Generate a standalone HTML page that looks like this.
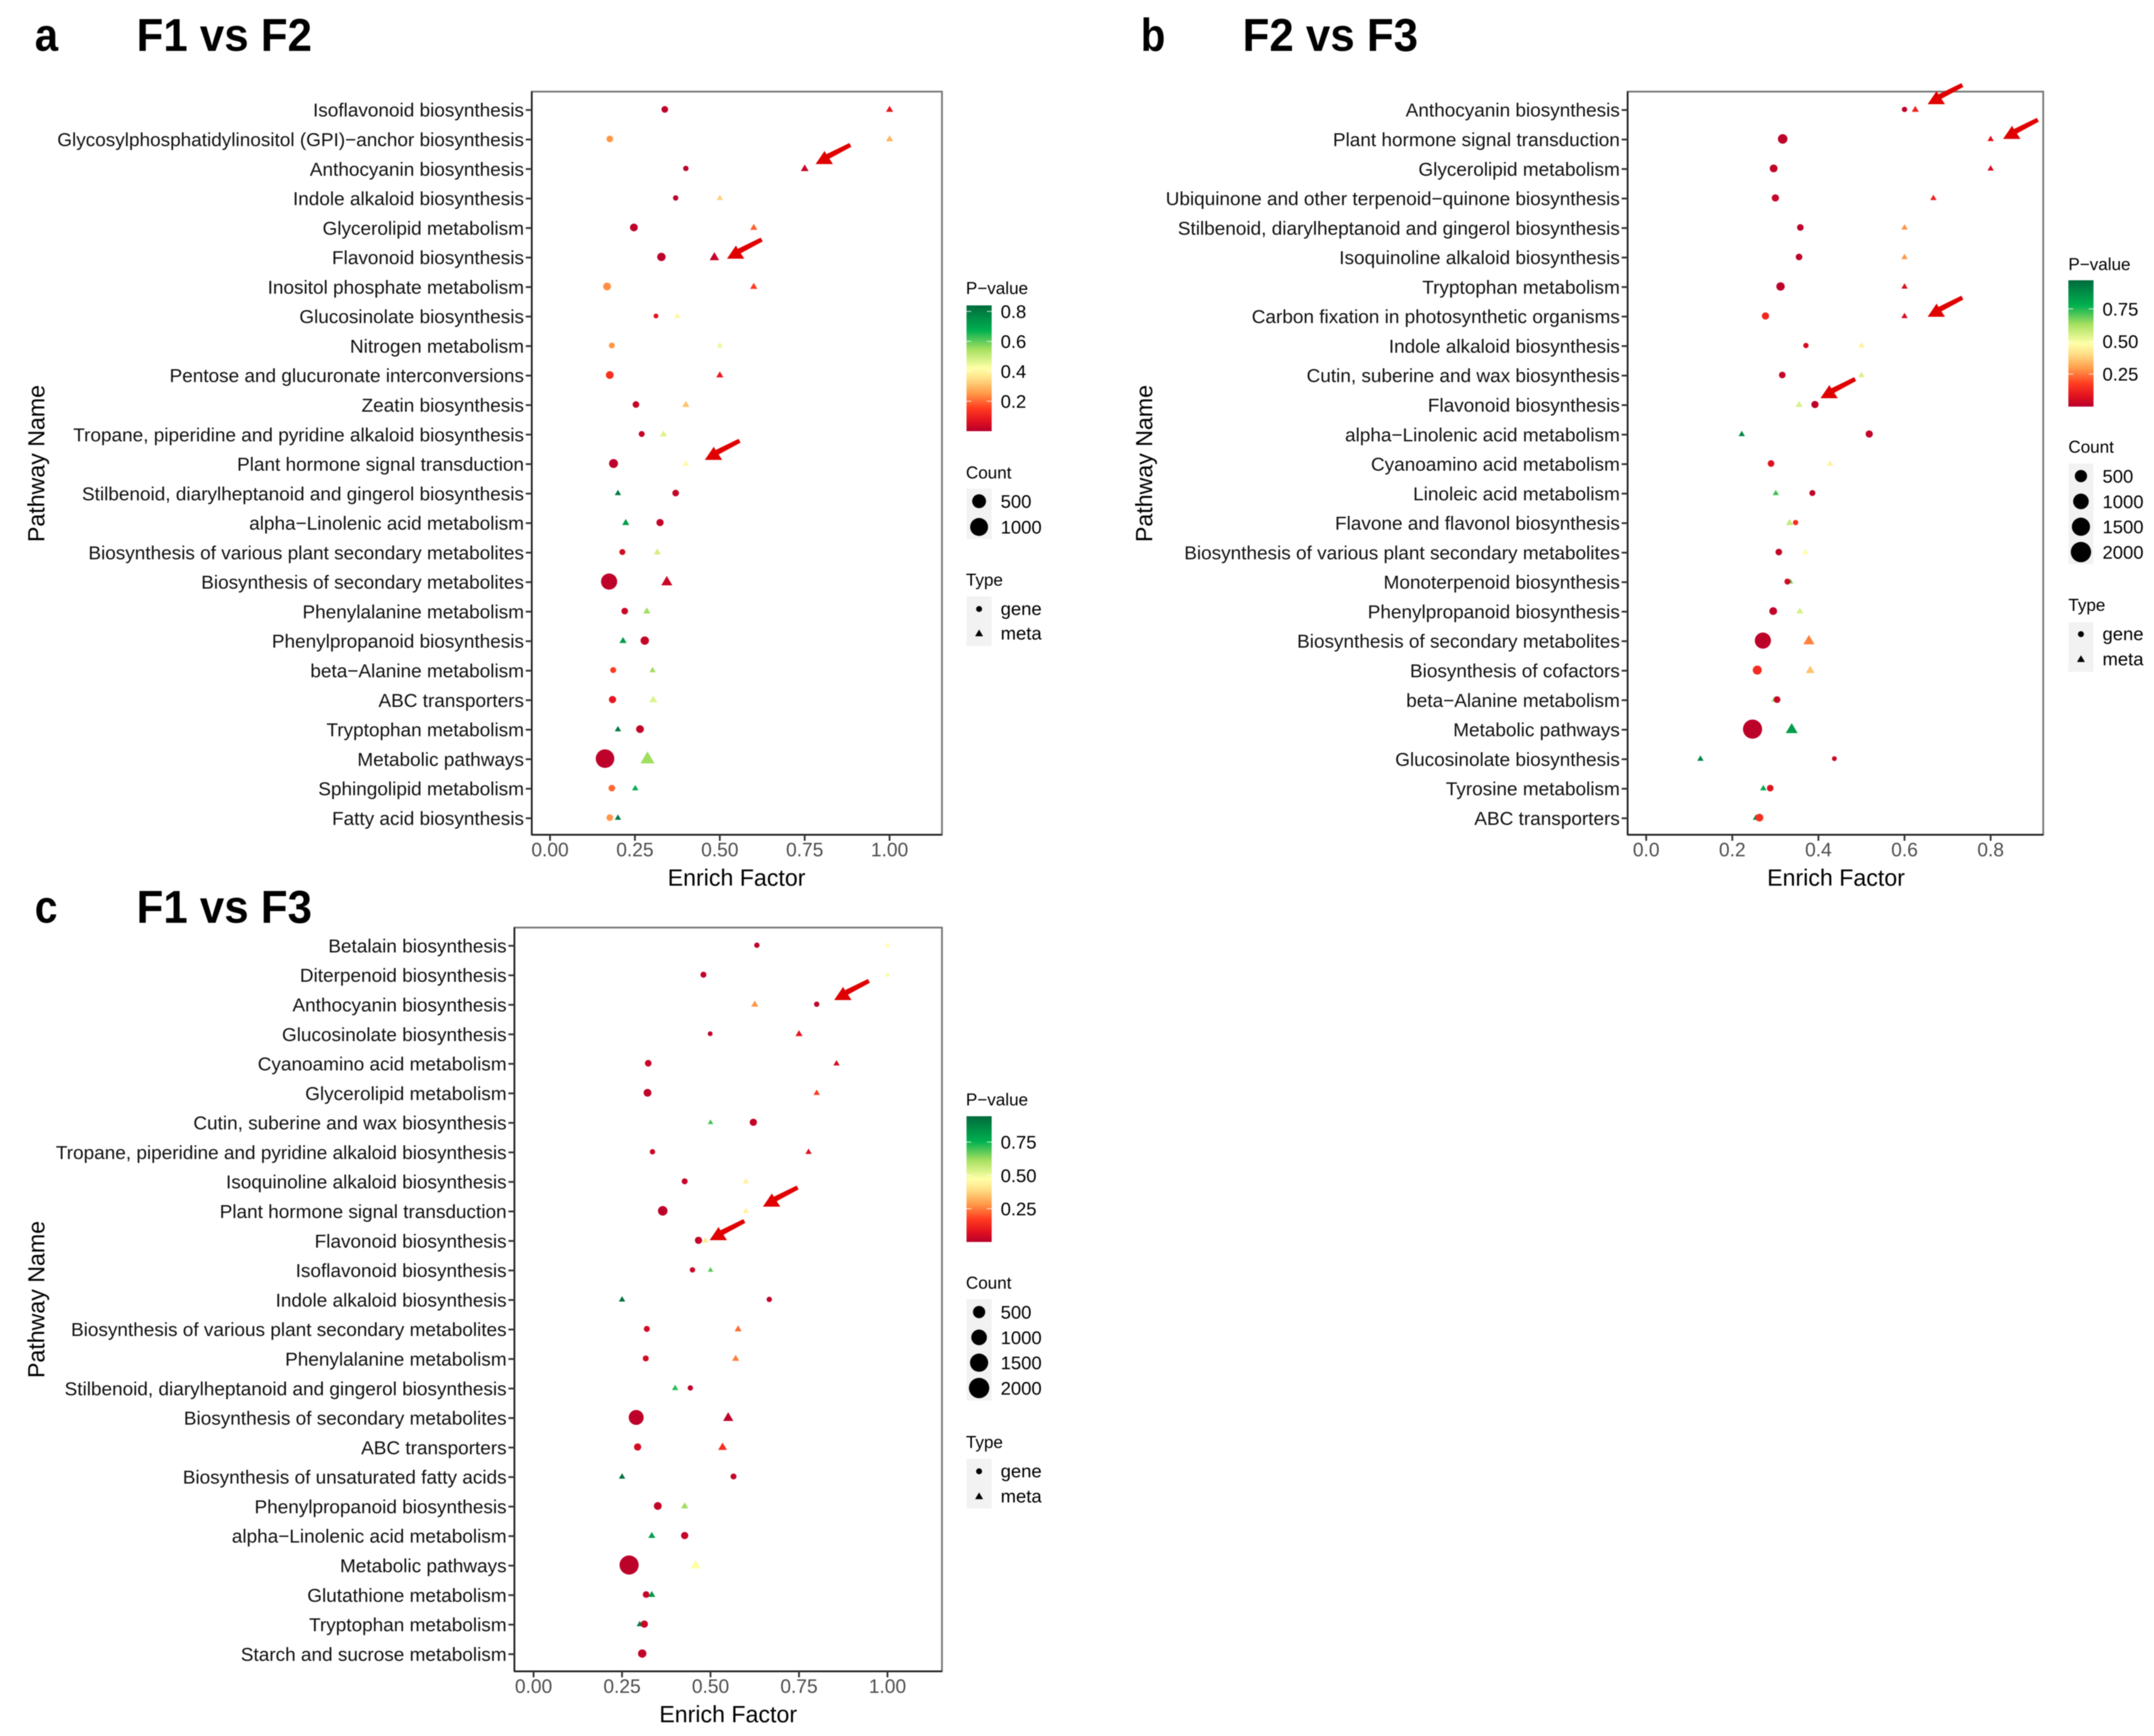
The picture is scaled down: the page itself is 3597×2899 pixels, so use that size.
<!DOCTYPE html>
<html lang="en">
<head>
<meta charset="utf-8">
<title>Pathway enrichment bubble charts</title>
<style>
html,body{margin:0;padding:0;background:#fff;}
svg{display:block;filter:blur(0.7px);}
text{font-family:"Liberation Sans",sans-serif;}
.panel-letter,.panel-title{font-weight:bold;font-size:77px;fill:#000;}
.axis-title{font-size:38.7px;fill:#000;}
.legend-title{font-size:28.5px;fill:#000;}
.legend-label{font-size:30.8px;fill:#000;}
.path-label{font-size:31.7px;fill:#111;}
.x-tick-label{font-size:32px;fill:#4d4d4d;}
.red-arrow{fill:#e00000;}
</style>
</head>
<body>
<svg id="figure" xmlns="http://www.w3.org/2000/svg" width="3597" height="2899" viewBox="0 0 3597 2899">
  <defs id="gradients"></defs>
  <rect x="0" y="0" width="3597" height="2899" fill="#fff"/>

  <g id="panel-a">
    <text class="panel-letter" x="58" y="85" textLength="39" lengthAdjust="spacingAndGlyphs">a</text>
    <text class="panel-title" x="228" y="85" textLength="293" lengthAdjust="spacingAndGlyphs">F1 vs F2</text>
    <text class="axis-title" text-anchor="middle" transform="translate(74,774) rotate(-90)">Pathway Name</text>
    <text class="axis-title" text-anchor="middle" x="1230" y="1479">Enrich Factor</text>
    <text class="legend-title" x="1613" y="491">P−value</text>
    <text class="legend-title" x="1613" y="799">Count</text>
    <text class="legend-title" x="1613" y="978">Type</text>
  </g>

  <g id="panel-b">
    <text class="panel-letter" x="1905" y="85" textLength="41" lengthAdjust="spacingAndGlyphs">b</text>
    <text class="panel-title" x="2075" y="85" textLength="293" lengthAdjust="spacingAndGlyphs">F2 vs F3</text>
    <text class="axis-title" text-anchor="middle" transform="translate(1924,774) rotate(-90)">Pathway Name</text>
    <text class="axis-title" text-anchor="middle" x="3066" y="1479">Enrich Factor</text>
    <text class="legend-title" x="3454" y="451">P−value</text>
    <text class="legend-title" x="3454" y="756">Count</text>
    <text class="legend-title" x="3454" y="1020">Type</text>
  </g>

  <g id="panel-c">
    <text class="panel-letter" x="58" y="1541" textLength="38" lengthAdjust="spacingAndGlyphs">c</text>
    <text class="panel-title" x="228" y="1541" textLength="293" lengthAdjust="spacingAndGlyphs">F1 vs F3</text>
    <text class="axis-title" text-anchor="middle" transform="translate(74,2170) rotate(-90)">Pathway Name</text>
    <text class="axis-title" text-anchor="middle" x="1216" y="2876">Enrich Factor</text>
    <text class="legend-title" x="1613" y="1846">P−value</text>
    <text class="legend-title" x="1613" y="2152">Count</text>
    <text class="legend-title" x="1613" y="2418">Type</text>
  </g>

  <g id="arrows">
    <polygon class="red-arrow" transform="translate(1362,274)" points="0,0 15,-22 18,-16.5 56.3,-35.1 59.7,-28.9 23,-9 29,0"/>
    <polygon class="red-arrow" transform="translate(1214,432)" points="0,0 15,-22 18,-16.5 56.3,-35.1 59.7,-28.9 23,-9 29,0"/>
    <polygon class="red-arrow" transform="translate(1177,768)" points="0,0 15,-22 18,-16.5 56.3,-35.1 59.7,-28.9 23,-9 29,0"/>
    <polygon class="red-arrow" transform="translate(3219,174)" points="0,0 15,-22 18,-16.5 56.3,-35.1 59.7,-28.9 23,-9 29,0"/>
    <polygon class="red-arrow" transform="translate(3345,232)" points="0,0 15,-22 18,-16.5 56.3,-35.1 59.7,-28.9 23,-9 29,0"/>
    <polygon class="red-arrow" transform="translate(3219,529)" points="0,0 15,-22 18,-16.5 56.3,-35.1 59.7,-28.9 23,-9 29,0"/>
    <polygon class="red-arrow" transform="translate(3040,665)" points="0,0 15,-22 18,-16.5 56.3,-35.1 59.7,-28.9 23,-9 29,0"/>
    <polygon class="red-arrow" transform="translate(1393,1670)" points="0,0 15,-22 18,-16.5 56.3,-35.1 59.7,-28.9 23,-9 29,0"/>
    <polygon class="red-arrow" transform="translate(1274,2015)" points="0,0 15,-22 18,-16.5 56.3,-35.1 59.7,-28.9 23,-9 29,0"/>
    <polygon class="red-arrow" transform="translate(1185,2071)" points="0,0 15,-22 18,-16.5 56.3,-35.1 59.7,-28.9 23,-9 29,0"/>
  </g>
</svg>

<script>
/* ---------- Panel a: F1 vs F2 ---------- */
const aPathways = ["Isoflavonoid biosynthesis","Glycosylphosphatidylinositol (GPI)−anchor biosynthesis","Anthocyanin biosynthesis","Indole alkaloid biosynthesis","Glycerolipid metabolism","Flavonoid biosynthesis","Inositol phosphate metabolism","Glucosinolate biosynthesis","Nitrogen metabolism","Pentose and glucuronate interconversions","Zeatin biosynthesis","Tropane, piperidine and pyridine alkaloid biosynthesis","Plant hormone signal transduction","Stilbenoid, diarylheptanoid and gingerol biosynthesis","alpha−Linolenic acid metabolism","Biosynthesis of various plant secondary metabolites","Biosynthesis of secondary metabolites","Phenylalanine metabolism","Phenylpropanoid biosynthesis","beta−Alanine metabolism","ABC transporters","Tryptophan metabolism","Metabolic pathways","Sphingolipid metabolism","Fatty acid biosynthesis"];
const aGeneFactor = [0.338,0.176,0.40,0.37,0.247,0.328,0.168,0.312,0.182,0.176,0.253,0.27,0.187,0.37,0.324,0.213,0.174,0.22,0.279,0.186,0.184,0.265,0.162,0.182,0.176];
const aGeneP = [0.01,0.25,0.01,0.01,0.01,0.01,0.24,0.07,0.25,0.13,0.02,0.02,0.01,0.02,0.02,0.04,0.01,0.03,0.02,0.15,0.08,0.02,0.01,0.2,0.25];
const aGeneCount = [31,31,8,8,69,94,69,2,17,69,31,17,122,31,48,17,764,31,94,17,48,69,1100,31,31];
const aMetaFactor = [1.0,1.0,0.75,0.50,0.60,0.484,0.60,0.375,0.50,0.50,0.40,0.334,0.40,0.20,0.223,0.316,0.344,0.285,0.215,0.302,0.304,0.20,0.287,0.251,0.20];
const aMetaP = [0.08,0.29,0.02,0.33,0.19,0.02,0.15,0.4,0.45,0.09,0.31,0.47,0.41,0.8,0.72,0.48,0.03,0.55,0.72,0.55,0.47,0.8,0.55,0.68,0.8];
const aMetaCount = [8,8,17,2,8,48,8,1,2,8,8,8,2,2,8,8,94,8,8,2,17,2,231,2,2];
const aXTicks = [0,0.25,0.5,0.75,1];
const aXTickLabels = ["0.00","0.25","0.50","0.75","1.00"];
const aPTicks = [0.2,0.4,0.6,0.8];
const aPTickLabels = ["0.2","0.4","0.6","0.8"];
const aLegendCounts = [500,1000];

/* ---------- Panel b: F2 vs F3 ---------- */
const bPathways = ["Anthocyanin biosynthesis","Plant hormone signal transduction","Glycerolipid metabolism","Ubiquinone and other terpenoid−quinone biosynthesis","Stilbenoid, diarylheptanoid and gingerol biosynthesis","Isoquinoline alkaloid biosynthesis","Tryptophan metabolism","Carbon fixation in photosynthetic organisms","Indole alkaloid biosynthesis","Cutin, suberine and wax biosynthesis","Flavonoid biosynthesis","alpha−Linolenic acid metabolism","Cyanoamino acid metabolism","Linoleic acid metabolism","Flavone and flavonol biosynthesis","Biosynthesis of various plant secondary metabolites","Monoterpenoid biosynthesis","Phenylpropanoid biosynthesis","Biosynthesis of secondary metabolites","Biosynthesis of cofactors","beta−Alanine metabolism","Metabolic pathways","Glucosinolate biosynthesis","Tyrosine metabolism","ABC transporters"];
const bGeneFactor = [0.60,0.317,0.296,0.30,0.358,0.355,0.312,0.277,0.371,0.316,0.392,0.518,0.29,0.386,0.347,0.308,0.328,0.295,0.271,0.258,0.304,0.247,0.437,0.288,0.263];
const bGeneP = [0.01,0.01,0.02,0.03,0.01,0.01,0.01,0.13,0.06,0.03,0.01,0.02,0.08,0.02,0.15,0.02,0.05,0.02,0.01,0.14,0.03,0.01,0.04,0.08,0.15];
const bGeneCount = [11,222,99,69,44,44,134,69,11,44,69,69,44,25,11,44,25,99,1097,176,44,1715,3,44,99];
const bMetaFactor = [0.625,0.80,0.80,0.667,0.60,0.60,0.60,0.60,0.50,0.50,0.355,0.222,0.427,0.301,0.333,0.37,0.335,0.357,0.378,0.381,0.298,0.338,0.126,0.272,0.255];
const bMetaP = [0.12,0.08,0.06,0.12,0.28,0.29,0.07,0.06,0.45,0.55,0.55,0.88,0.45,0.72,0.58,0.48,0.7,0.55,0.26,0.36,0.65,0.83,0.9,0.8,0.88];
const bMetaCount = [11,3,3,3,3,3,3,3,3,3,11,3,3,3,11,3,0,11,134,44,3,176,3,3,3];
const bXTicks = [0,0.2,0.4,0.6,0.8];
const bXTickLabels = ["0.0","0.2","0.4","0.6","0.8"];
const bPTicks = [0.25,0.5,0.75];
const bPTickLabels = ["0.25","0.50","0.75"];
const bLegendCounts = [500,1000,1500,2000];

/* ---------- Panel c: F1 vs F3 ---------- */
const cPathways = ["Betalain biosynthesis","Diterpenoid biosynthesis","Anthocyanin biosynthesis","Glucosinolate biosynthesis","Cyanoamino acid metabolism","Glycerolipid metabolism","Cutin, suberine and wax biosynthesis","Tropane, piperidine and pyridine alkaloid biosynthesis","Isoquinoline alkaloid biosynthesis","Plant hormone signal transduction","Flavonoid biosynthesis","Isoflavonoid biosynthesis","Indole alkaloid biosynthesis","Biosynthesis of various plant secondary metabolites","Phenylalanine metabolism","Stilbenoid, diarylheptanoid and gingerol biosynthesis","Biosynthesis of secondary metabolites","ABC transporters","Biosynthesis of unsaturated fatty acids","Phenylpropanoid biosynthesis","alpha−Linolenic acid metabolism","Metabolic pathways","Glutathione metabolism","Tryptophan metabolism","Starch and sucrose metabolism"];
const cGeneFactor = [0.631,0.48,0.80,0.499,0.324,0.322,0.621,0.336,0.427,0.365,0.466,0.449,0.666,0.32,0.317,0.443,0.29,0.294,0.565,0.351,0.427,0.27,0.318,0.313,0.307];
const cGeneP = [0.01,0.02,0.01,0.02,0.03,0.02,0.02,0.03,0.02,0.01,0.02,0.03,0.02,0.05,0.05,0.02,0.01,0.05,0.02,0.02,0.02,0.01,0.03,0.03,0.02];
const cGeneCount = [11,25,11,3,44,99,69,11,25,222,69,11,11,25,25,11,889,69,25,99,69,1715,44,69,134];
const cMetaFactor = [1.0,1.0,0.625,0.75,0.856,0.80,0.50,0.777,0.60,0.60,0.485,0.50,0.25,0.578,0.571,0.40,0.55,0.534,0.25,0.427,0.334,0.458,0.334,0.30,0.305];
const cMetaP = [0.47,0.48,0.28,0.09,0.05,0.17,0.7,0.07,0.44,0.44,0.42,0.68,0.92,0.23,0.25,0.72,0.01,0.14,0.92,0.62,0.8,0.47,0.82,0.88,0.03];
const cMetaCount = [0,0,11,11,3,3,0,3,3,3,3,0,3,11,11,3,99,44,3,11,11,99,11,3,3];
const cXTicks = [0,0.25,0.5,0.75,1];
const cXTickLabels = ["0.00","0.25","0.50","0.75","1.00"];
const cPTicks = [0.25,0.5,0.75];
const cPTickLabels = ["0.25","0.50","0.75"];
const cLegendCounts = [500,1000,1500,2000];

const typeLabels = ["gene","meta"];

const NS = "http://www.w3.org/2000/svg";
const rampStops = [[0,"#b8002c"],[0.08,"#e0101f"],[0.18,"#ff3a20"],[0.3,"#ff9a48"],[0.42,"#ffe088"],[0.5,"#ffffa8"],[0.65,"#a6e060"],[0.8,"#00b050"],[1,"#006b3c"]];

function hexToRgb(h){return [1,3,5].map(i=>parseInt(h.substr(i,2),16));}
function ramp(t){
  t=Math.max(0,Math.min(1,t));
  for(let i=1;i<rampStops.length;i++){
    if(t<=rampStops[i][0]){
      const a=rampStops[i-1],b=rampStops[i],u=(t-a[0])/(b[0]-a[0]);
      const ca=hexToRgb(a[1]),cb=hexToRgb(b[1]);
      return "rgb("+ca.map((v,k)=>Math.round(v+(cb[k]-v)*u)).join(",")+")";
    }
  }
  return rampStops[rampStops.length-1][1];
}
function make(tag,parent,attrs){
  const el=document.createElementNS(NS,tag);
  for(const k in attrs) el.setAttribute(k,attrs[k]);
  parent.appendChild(el);
  return el;
}
function slug(s){return s.toLowerCase().replace(/[^a-z0-9]+/g,"-").replace(/^-|-$/g,"");}

function drawCircle(parent,cx,cy,d,fill){
  return make("circle",parent,{cx:cx,cy:cy,r:d/2,fill:fill});
}
function drawTriangle(parent,cx,cy,d,fill){
  const w=d*1.32,h=d*1.12;
  const pts=[[cx,cy-h*0.6],[cx+w/2,cy+h*0.4],[cx-w/2,cy+h*0.4]].map(p=>p[0].toFixed(1)+","+p[1].toFixed(1)).join(" ");
  return make("polygon",parent,{points:pts,fill:fill});
}

function drawPanel(cfg){
  const host=document.getElementById(cfg.hostId);
  const g=make("g",host,{});
  
  

  const xScale=v=>cfg.x0+v*cfg.xUnit;
  const yScale=i=>cfg.yFirst+i*cfg.yStep;
  const sizeScale=c=>cfg.dMin+(cfg.dMax-cfg.dMin)*Math.sqrt(c/cfg.countMax);
  const colorScale=p=>ramp(p/cfg.pMax);

  const bg=make("rect",g,{x:cfg.left,y:cfg.top,width:cfg.right-cfg.left,height:cfg.bottom-cfg.top,fill:"#fff",stroke:"#7a7a7a","stroke-width":3});
  
  
  const axisY=make("line",g,{x1:cfg.left,x2:cfg.left,y1:cfg.top,y2:cfg.bottom,stroke:"#222","stroke-width":3});
  
  
  const axisX=make("line",g,{x1:cfg.left,x2:cfg.right,y1:cfg.bottom,y2:cfg.bottom,stroke:"#222","stroke-width":3});
  
  

  cfg.pathways.forEach((name,i)=>{
    const y=yScale(i);
    const tick=make("line",g,{x1:cfg.left-10,x2:cfg.left,y1:y,y2:y,stroke:"#333","stroke-width":3});
    
    
    const t=make("text",g,{x:cfg.left-13,y:y+11,"text-anchor":"end","class":"path-label"});
    t.textContent=name;
    
    
  });

  cfg.xTicks.forEach((v,i)=>{
    const x=xScale(v);
    const tick=make("line",g,{x1:x,x2:x,y1:cfg.bottom,y2:cfg.bottom+10,stroke:"#333","stroke-width":3});
    
    
    const t=make("text",g,{x:x,y:cfg.bottom+36,"text-anchor":"middle","class":"x-tick-label"});
    t.textContent=cfg.xTickLabels[i];
    
    
  });

  cfg.pathways.forEach((name,i)=>{
    const y=yScale(i);
    const tri=drawTriangle(g,xScale(cfg.metaFactor[i]),y-1,sizeScale(cfg.metaCount[i]),colorScale(cfg.metaP[i]));
    
    
  });
  cfg.pathways.forEach((name,i)=>{
    const y=yScale(i);
    const dot=drawCircle(g,xScale(cfg.geneFactor[i]),y-1,sizeScale(cfg.geneCount[i]),colorScale(cfg.geneP[i]));
    
    
  });

  /* colour bar */
  const defs=document.getElementById("gradients");
  const grad=make("linearGradient",defs,{id:"grad-"+cfg.id,x1:0,y1:1,x2:0,y2:0});
  rampStops.forEach(s=>make("stop",grad,{offset:s[0],"stop-color":s[1]}));
  const bx=cfg.legendX,bw=42;
  const bar=make("rect",g,{x:bx,y:cfg.barTop,width:bw,height:cfg.barBottom-cfg.barTop,fill:"url(#grad-"+cfg.id+")"});
  
  
  const pScale=p=>cfg.barBottom-(p/cfg.pMax)*(cfg.barBottom-cfg.barTop);
  cfg.pTicks.forEach((p,i)=>{
    const y=pScale(p);
    const tl=make("line",g,{x1:bx,x2:bx+8,y1:y,y2:y,stroke:"#fff","stroke-width":1.5,"stroke-opacity":0.75});
    
    
    const tr=make("line",g,{x1:bx+bw-8,x2:bx+bw,y1:y,y2:y,stroke:"#fff","stroke-width":1.5,"stroke-opacity":0.75});
    
    
    const t=make("text",g,{x:cfg.legendTextX,y:y+11,"class":"legend-label"});
    t.textContent=cfg.pTickLabels[i];
    
    
  });

  /* count legend */
  const countBox=make("rect",g,{x:bx,y:cfg.countTop,width:bw,height:cfg.countBottom-cfg.countTop,fill:"#f2f2f2"});
  
  
  cfg.legendCounts.forEach((c,i)=>{
    const y=cfg.countFirst+i*cfg.countStep;
    const dot=drawCircle(g,bx+bw/2,y,sizeScale(c),"#000");
    
    
    const t=make("text",g,{x:cfg.legendTextX,y:y+11,"class":"legend-label"});
    t.textContent=String(c);
    
    
  });

  /* type legend */
  const typeBox=make("rect",g,{x:bx,y:cfg.typeTop,width:bw,height:cfg.typeBottom-cfg.typeTop,fill:"#f2f2f2"});
  
  
  typeLabels.forEach((label,i)=>{
    const y=cfg.typeFirst+i*cfg.typeStep;
    const mark=i===0?drawCircle(g,bx+bw/2,y,10,"#000"):drawTriangle(g,bx+bw/2,y,10,"#000");
    
    
    const t=make("text",g,{x:cfg.legendTextX,y:y+10,"class":"legend-label"});
    t.textContent=label;
    
    
  });
}

drawPanel({id:"a",hostId:"panel-a",
  pathways:aPathways,geneFactor:aGeneFactor,geneP:aGeneP,geneCount:aGeneCount,metaFactor:aMetaFactor,metaP:aMetaP,metaCount:aMetaCount,
  xTicks:aXTicks,xTickLabels:aXTickLabels,pTicks:aPTicks,pTickLabels:aPTickLabels,legendCounts:aLegendCounts,
  left:888,right:1573,top:153,bottom:1394,x0:918.5,xUnit:567,yFirst:183.7,yStep:49.28,
  dMin:7,dMax:31,countMax:1100,pMax:0.84,
  legendX:1614,legendTextX:1671,barTop:510,barBottom:720,
  countTop:816,countBottom:900,countFirst:837,countStep:43,
  typeTop:996,typeBottom:1079,typeFirst:1017,typeStep:41});

drawPanel({id:"b",hostId:"panel-b",
  pathways:bPathways,geneFactor:bGeneFactor,geneP:bGeneP,geneCount:bGeneCount,metaFactor:bMetaFactor,metaP:bMetaP,metaCount:bMetaCount,
  xTicks:bXTicks,xTickLabels:bXTickLabels,pTicks:bPTicks,pTickLabels:bPTickLabels,legendCounts:bLegendCounts,
  left:2718,right:3412,top:153,bottom:1394,x0:2749,xUnit:719,yFirst:183.7,yStep:49.28,
  dMin:7,dMax:34,countMax:2000,pMax:0.97,
  legendX:3454,legendTextX:3511,barTop:468,barBottom:679,
  countTop:774,countBottom:942,countFirst:795,countStep:42.3,
  typeTop:1039,typeBottom:1122,typeFirst:1059,typeStep:42});

drawPanel({id:"c",hostId:"panel-c",
  pathways:cPathways,geneFactor:cGeneFactor,geneP:cGeneP,geneCount:cGeneCount,metaFactor:cMetaFactor,metaP:cMetaP,metaCount:cMetaCount,
  xTicks:cXTicks,xTickLabels:cXTickLabels,pTicks:cPTicks,pTickLabels:cPTickLabels,legendCounts:cLegendCounts,
  left:859,right:1573,top:1549,bottom:2791,x0:891,xUnit:591,yFirst:1579.4,yStep:49.29,
  dMin:7,dMax:34,countMax:2000,pMax:0.944,
  legendX:1614,legendTextX:1671,barTop:1864,barBottom:2074,
  countTop:2169,countBottom:2339,countFirst:2191,countStep:42.3,
  typeTop:2436,typeBottom:2519,typeFirst:2457,typeStep:42});
</script>
</body>
</html>
